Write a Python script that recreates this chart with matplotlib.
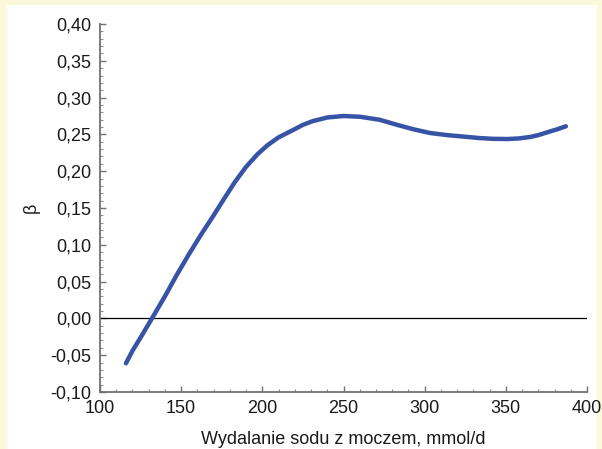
import numpy as np
import matplotlib.pyplot as plt
from matplotlib.patches import Rectangle
from matplotlib.ticker import MultipleLocator, FuncFormatter

# Dane
sod = [116, 120, 125, 132, 140, 147, 155, 162, 170, 176, 183, 190, 197, 203,
       210, 219, 225, 231, 240, 250, 260, 272, 283, 293, 303, 314, 324, 334,
       342, 351, 358, 365, 370, 375, 381, 387]
beta = [-0.061, -0.044, -0.026, 0.000, 0.030, 0.058, 0.088, 0.113, 0.140,
        0.161, 0.185, 0.206, 0.223, 0.235, 0.246, 0.256, 0.263, 0.268, 0.273,
        0.275, 0.274, 0.270, 0.263, 0.257, 0.252, 0.249, 0.247, 0.245, 0.244,
        0.2437, 0.2445, 0.2465, 0.249, 0.2525, 0.2565, 0.261]

x_ticks = [100, 150, 200, 250, 300, 350, 400]
y_ticks = [-0.10, -0.05, 0.00, 0.05, 0.10, 0.15, 0.20, 0.25, 0.30, 0.35, 0.40]

plt.rcParams['font.family'] = ['Liberation Sans', 'DejaVu Sans']

fig = plt.figure(figsize=(6.02, 4.49), dpi=100, facecolor='#fcf8dc')
# biały panel na żółtym tle
fig.patches.append(Rectangle((7 / 602, 0), 590 / 602, 444 / 449,
                             transform=fig.transFigure, facecolor='white',
                             edgecolor='none', zorder=-5))

ax = fig.add_axes([100 / 602, 1 - 392 / 449, 487 / 602, 368 / 449])
ax.set_zorder(2)
ax.set_facecolor('white')

ax.plot(sod, beta, color='#3753a6', linewidth=3.2, solid_capstyle='round',
        solid_joinstyle='round', zorder=3)
ax.axhline(0, color='black', linewidth=0.9, zorder=2)

ax.set_xlim(100, 400)
ax.set_ylim(-0.10, 0.40)
ax.set_xticks(x_ticks)
ax.set_yticks(y_ticks)
ax.xaxis.set_minor_locator(MultipleLocator(10))
ax.yaxis.set_minor_locator(MultipleLocator(0.01))
ax.yaxis.set_major_formatter(FuncFormatter(lambda v, p: f'{v:.2f}'.replace('.', ',').replace('-0,00', '0,00')))

for s in ['top', 'right']:
    ax.spines[s].set_visible(False)
for s in ['left', 'bottom']:
    ax.spines[s].set_color('#707070')
    ax.spines[s].set_linewidth(1.3)

ax.tick_params(which='major', direction='in', length=4, width=1, color='#707070',
               labelsize=13, labelcolor='#1a1a1a')
ax.tick_params(axis='y', which='major', pad=6)
ax.tick_params(axis='x', which='major', pad=6)
ax.tick_params(which='minor', direction='in', length=2, width=0.8, color='#909090')

ax.set_xlabel('Wydalanie sodu z moczem, mmol/d', fontsize=13, color='#1a1a1a', labelpad=10)
ax.set_ylabel('β', fontsize=13, color='#1a1a1a', labelpad=8)

fig.savefig('out.png', dpi=100, facecolor=fig.get_facecolor())
